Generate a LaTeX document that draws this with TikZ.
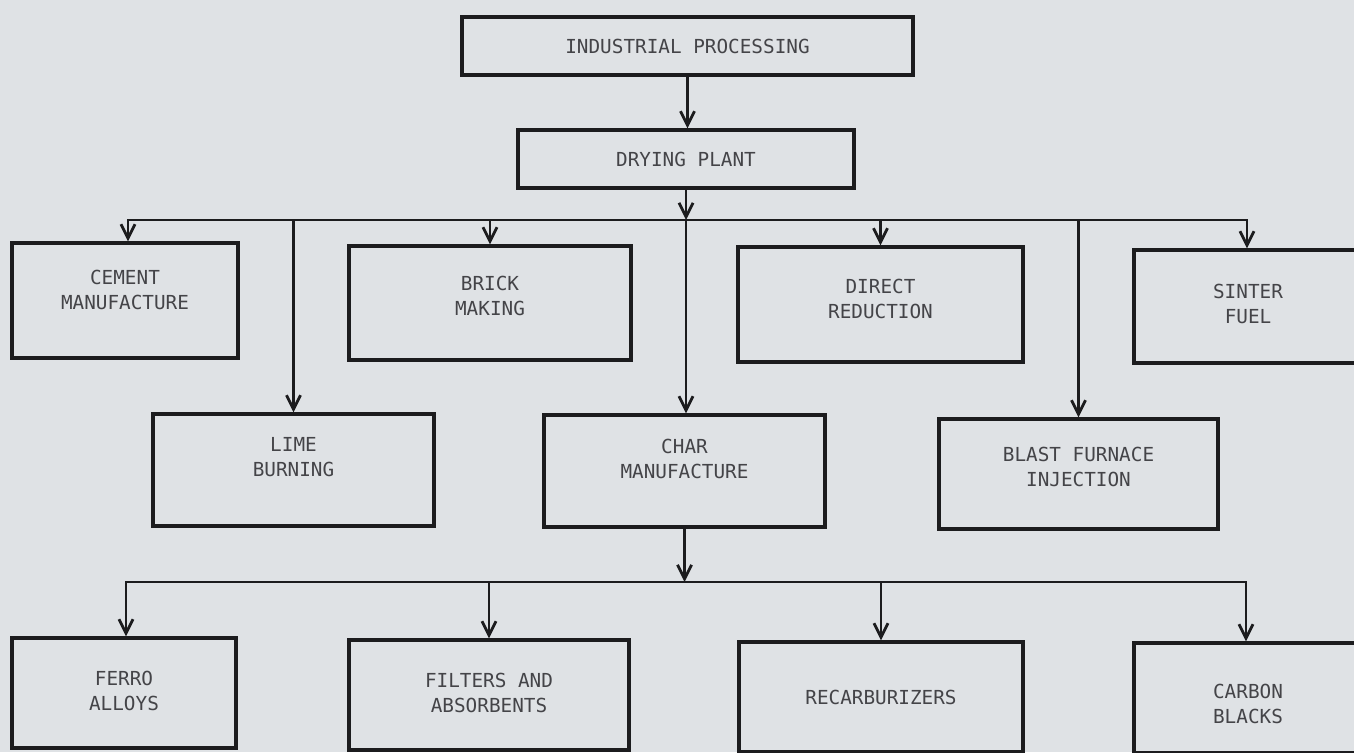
\documentclass[tikz,border=0pt]{standalone}
\usepackage{fontspec}
\newfontfamily\plotfont{DejaVu Sans Mono}
\usetikzlibrary{arrows.meta}
\definecolor{paper}{RGB}{223,226,229}
\definecolor{ink}{RGB}{28,28,30}
\definecolor{lettering}{RGB}{68,68,72}
\tikzset{
  block/.style={draw=ink,line width=1.8pt,fill=paper,align=center,inner sep=0pt,
    font=\plotfont\fontsize{11}{14.2}\selectfont,text=lettering},
  lift/.style={text depth=0pt,text height=#1},
  feed/.style={draw=ink,line width=1.6pt,-{Straight Barb[length=8pt,width=8pt]}},
  bus/.style={draw=ink,line width=1.6pt}
}

\begin{document}
\begin{tikzpicture}[x=0.02cm,y=-0.02cm]

    % -- page and background (units are pixels of the page) --
    \useasboundingbox (0,0) rectangle (1354,752);
    \fill[paper] (0,0) rectangle (1354,752);
    \clip (0,0) rectangle (1354,752);

    % Define the heights of the two distribution lines
    \def\ybusone{220}   % line under the drying plant
    \def\ybustwo{582}   % line under the char manufacture

    % -- Top of the chart --
    \node[block,minimum width=9.02cm,minimum height=1.16cm] (proc) at (687.5,46) {INDUSTRIAL PROCESSING};
    \node[block,minimum width=6.72cm,minimum height=1.16cm] (dry) at (686,159) {DRYING PLANT};

    % -- First row of uses --
    \node[block,lift=0.36cm,minimum width=4.52cm,minimum height=2.30cm] (cement) at (125,300.5) {CEMENT\\MANUFACTURE};
    \node[block,lift=0.50cm,minimum width=5.64cm,minimum height=2.28cm] (brick) at (490,303) {BRICK\\MAKING};
    \node[block,lift=0.56cm,minimum width=5.70cm,minimum height=2.30cm] (direct) at (880.5,304.5) {DIRECT\\REDUCTION};
    \node[block,lift=0.66cm,minimum width=4.56cm,minimum height=2.26cm] (sinter) at (1248,306.5) {SINTER\\FUEL};

    % -- Second row --
    \node[block,lift=0.24cm,minimum width=5.62cm,minimum height=2.24cm] (lime) at (293.5,470) {LIME\\BURNING};
    \node[block,lift=0.30cm,minimum width=5.62cm,minimum height=2.24cm] (char) at (684.5,471) {CHAR\\MANUFACTURE};
    \node[block,lift=0.48cm,minimum width=5.58cm,minimum height=2.20cm] (blast) at (1078.5,474) {BLAST FURNACE\\INJECTION};

    % -- Bottom row (products of the char) --
    \node[block,lift=0.68cm,minimum width=4.48cm,minimum height=2.20cm] (ferro) at (124,693) {FERRO\\ALLOYS};
    \node[block,lift=0.70cm,minimum width=5.60cm,minimum height=2.20cm] (filters) at (489,695) {FILTERS AND\\ABSORBENTS};
    \node[block,minimum width=5.68cm,minimum height=2.20cm] (recarb) at (881,697) {RECARBURIZERS};
    \node[block,lift=1.00cm,minimum width=4.56cm,minimum height=2.20cm] (carbon) at (1248,698) {CARBON\\BLACKS};

    % -- Ends of the distribution lines --
    \coordinate (b1l) at (128,\ybusone);
    \coordinate (b1r) at (1247,\ybusone);
    \coordinate (b2l) at (126,\ybustwo);
    \coordinate (b2r) at (1246,\ybustwo);

    % -- Main trunk --
    \draw[feed] (proc.south) -- (proc.south |- dry.north);
    \draw[feed] (dry.south) -- (dry.south |- b1l);
    \draw[feed] (dry.south |- b1l) -- (dry.south |- char.north);
    \draw[feed] (char.south) -- (char.south |- b2l);

    % -- First distribution line --
    \draw[feed] (brick.north |- b1l) -- (b1l) -- (b1l |- cement.north);
    \draw[feed] (brick.north |- b1l) -- (b1r) -- (b1r |- sinter.north);
    \draw[feed] (brick.north |- b1l) -- (brick.north);
    \draw[feed] (lime.north |- b1l) -- (lime.north);
    \draw[feed] (direct.north |- b1l) -- (direct.north);
    \draw[feed] (blast.north |- b1l) -- (blast.north);

    % -- Second distribution line --
    \draw[feed] (filters.north |- b2l) -- (b2l) -- (b2l |- ferro.north);
    \draw[feed] (filters.north |- b2l) -- (b2r) -- (b2r |- carbon.north);
    \draw[feed] (filters.north |- b2l) -- (filters.north);
    \draw[feed] (recarb.north |- b2l) -- (recarb.north);

\end{tikzpicture}
\end{document}
